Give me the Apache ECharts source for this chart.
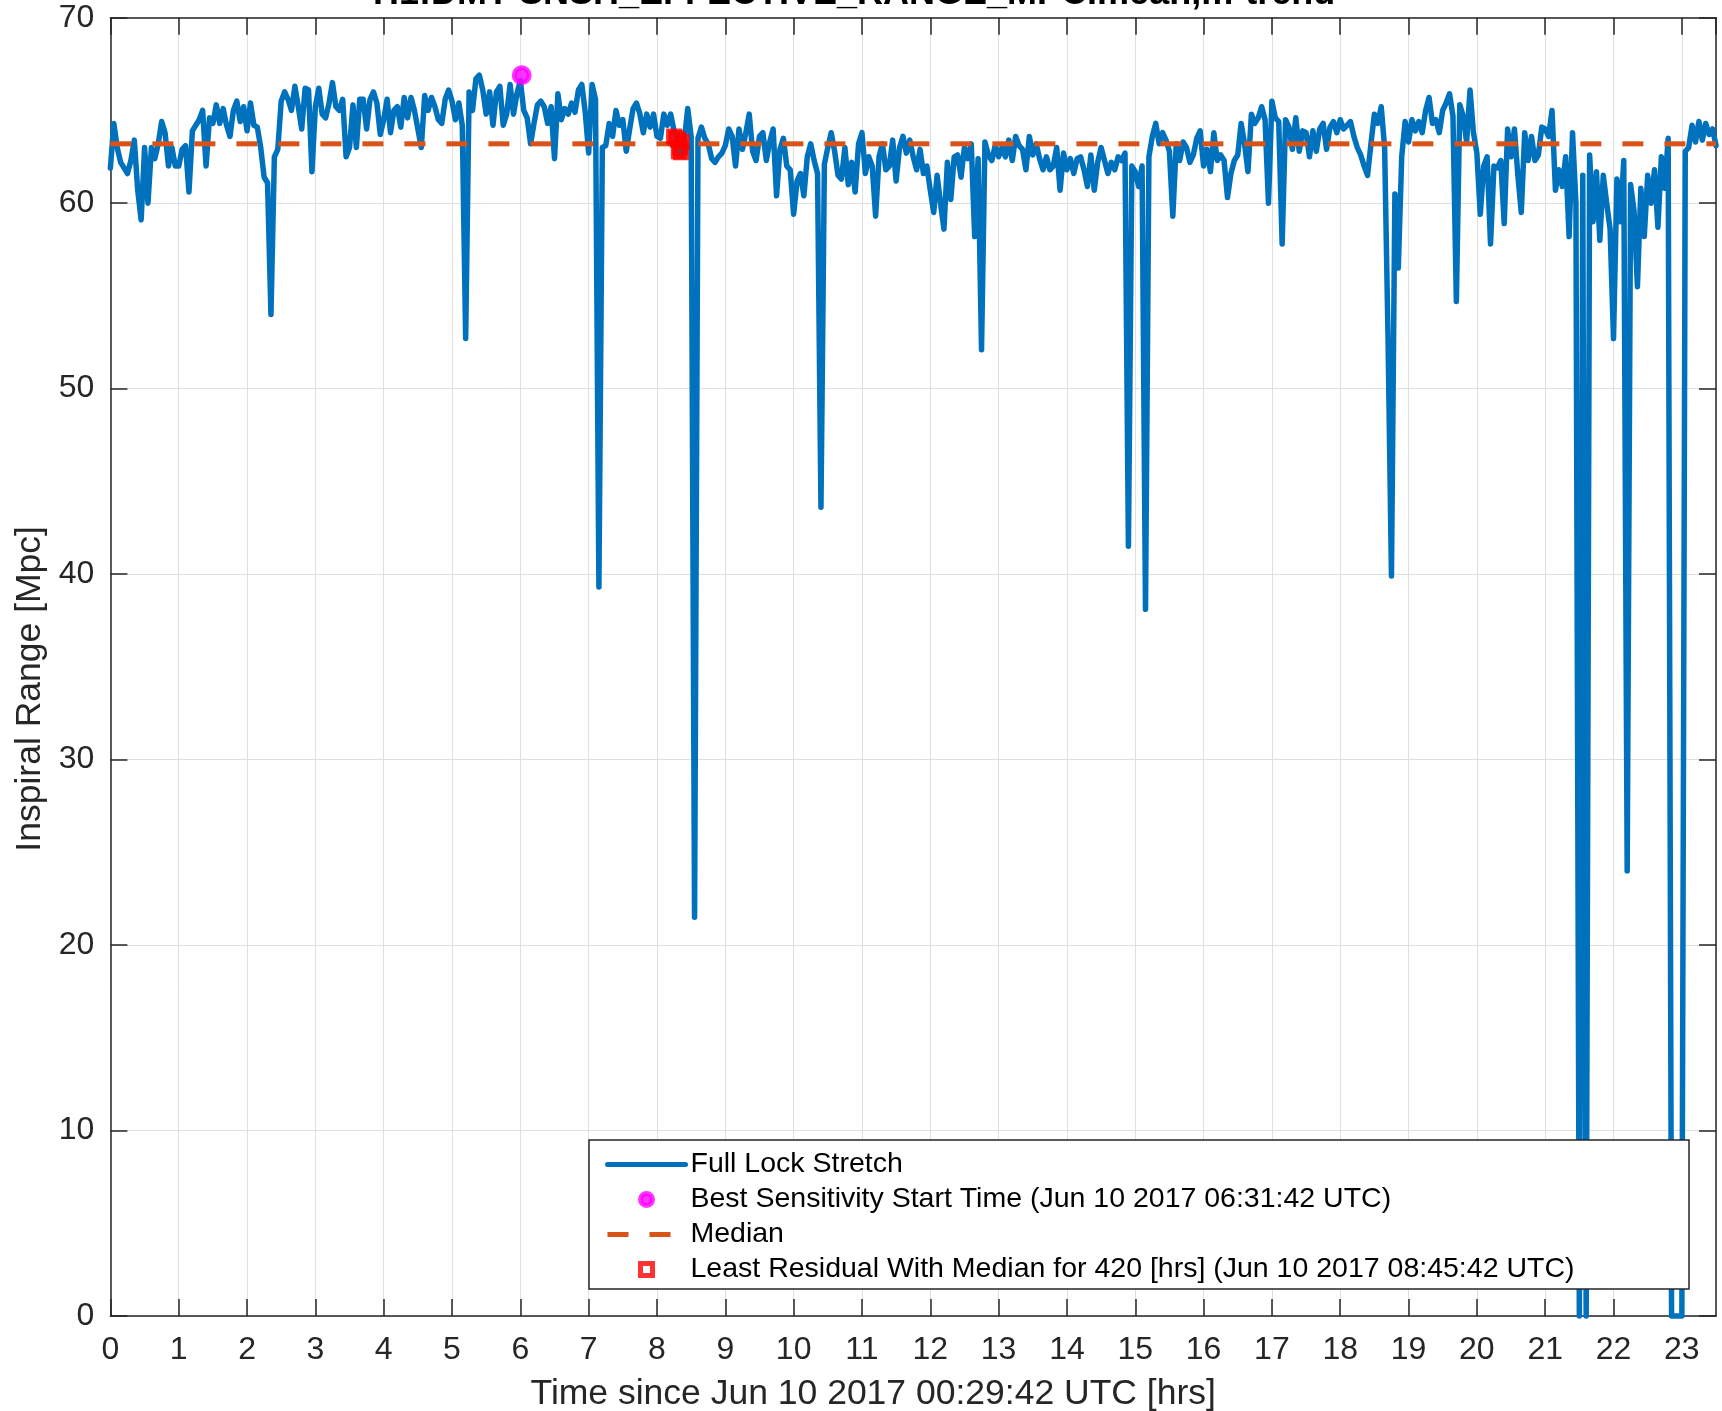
<!DOCTYPE html>
<html>
<head>
<meta charset="utf-8">
<title>Inspiral range trend</title>
<script src="https://cdn.jsdelivr.net/npm/echarts@6/dist/echarts.min.js"></script>
<style>
  html, body { margin: 0; padding: 0; background: #fff; }
  #chart { width: 1722px; height: 1411px; }
</style>
</head>
<body>
<div id="chart"></div>
<script>
// minute trend, one sample every 0.05 hr, one row per hour
var sampleStepHrs = 0.05;
var inspiralRange = [
  61.9, 64.3, 63.0, 62.2, 61.9, 61.6, 62.3, 63.4, 60.7, 59.1, 63.0, 60.0, 63.0, 62.4, 63.2, 64.4, 63.8, 62.0, 63.0, 62.0,
  62.0, 62.9, 63.1, 60.6, 63.9, 64.2, 64.5, 65.0, 62.0, 64.6, 64.3, 65.3, 64.3, 65.1, 64.2, 63.6, 65.0, 65.5, 64.4, 65.2,
  63.9, 65.4, 64.2, 64.1, 63.0, 61.4, 61.1, 54.0, 62.5, 62.9, 65.5, 66.0, 65.6, 65.0, 66.3, 65.2, 64.0, 66.2, 66.1, 61.7,
  65.2, 66.2, 64.8, 64.6, 65.4, 66.5, 65.2, 65.0, 65.6, 62.5, 63.0, 65.3, 63.0, 65.6, 65.6, 64.0, 65.6, 66.0, 65.4, 63.7,
  64.5, 65.6, 63.8, 65.0, 65.2, 64.1, 65.7, 64.6, 65.7, 65.0, 64.0, 63.0, 65.8, 65.0, 65.7, 65.2, 64.5, 64.3, 65.6, 66.1,
  65.5, 64.5, 65.4, 64.2, 52.7, 66.0, 65.0, 66.7, 66.9, 66.1, 64.8, 66.0, 64.2, 66.0, 66.3, 64.2, 64.8, 66.4, 64.8, 65.9,
  66.6, 65.0, 64.6, 63.2, 64.3, 65.3, 65.5, 65.2, 64.3, 65.2, 62.4, 65.9, 64.5, 65.1, 64.8, 65.4, 64.9, 66.1, 66.4, 64.9,
  62.7, 66.4, 65.6, 39.3, 63.0, 63.1, 64.3, 63.6, 65.0, 64.2, 64.5, 62.8, 64.0, 65.1, 65.4, 64.8, 63.8, 64.8, 64.1, 64.8,
  63.6, 63.5, 64.8, 64.2, 64.8, 63.9, 63.4, 62.6, 63.4, 65.1, 63.6, 21.5, 63.5, 64.1, 63.5, 63.2, 62.4, 62.2, 62.5, 62.7,
  63.1, 64.0, 63.6, 62.0, 64.0, 62.9, 63.8, 64.8, 62.8, 62.3, 63.6, 63.8, 62.3, 63.3, 64.0, 60.4, 62.9, 63.5, 62.0, 61.8,
  59.4, 61.2, 61.6, 60.4, 62.5, 63.2, 62.3, 61.6, 43.6, 62.1, 63.0, 63.8, 62.8, 61.5, 61.3, 63.0, 61.0, 62.2, 60.6, 63.2,
  63.8, 61.6, 62.5, 62.0, 59.3, 62.5, 63.2, 61.8, 62.0, 63.4, 61.2, 63.0, 63.6, 62.7, 63.4, 62.5, 61.8, 62.9, 61.6, 62.0,
  60.7, 59.5, 61.5, 60.0, 58.6, 62.2, 60.2, 62.5, 62.6, 61.4, 63.0, 62.4, 63.2, 58.2, 62.4, 52.1, 63.3, 62.6, 62.3, 63.1,
  62.5, 63.0, 62.5, 63.4, 62.3, 63.6, 63.1, 62.9, 61.8, 63.6, 62.6, 63.2, 62.4, 61.8, 62.5, 61.8, 62.0, 63.0, 60.7, 62.7,
  61.8, 62.4, 61.6, 62.4, 62.5, 61.8, 60.9, 62.6, 60.7, 62.2, 63.0, 62.3, 61.6, 62.2, 61.8, 62.5, 62.3, 62.7, 41.5, 62.0,
  61.7, 60.9, 62.0, 38.1, 62.5, 63.6, 64.3, 63.2, 63.8, 63.4, 62.8, 59.3, 63.2, 62.3, 63.3, 63.0, 62.2, 62.6, 63.5, 63.9,
  62.0, 62.9, 61.7, 63.8, 62.3, 62.6, 62.3, 60.3, 61.6, 62.3, 62.6, 64.3, 63.2, 61.7, 64.8, 64.3, 64.6, 65.2, 64.5, 60.0,
  65.5, 64.6, 64.4, 57.8, 64.5, 64.1, 62.9, 64.6, 62.8, 63.9, 63.8, 62.5, 63.9, 62.8, 64.0, 64.3, 62.9, 64.1, 64.4, 63.8,
  64.5, 64.0, 64.2, 64.4, 63.6, 63.0, 62.6, 62.0, 61.5, 63.2, 64.8, 64.3, 65.2, 63.0, 52.7, 39.9, 60.5, 56.5, 62.5, 64.4,
  63.3, 64.5, 63.9, 64.4, 63.8, 65.0, 65.7, 64.3, 64.5, 63.8, 65.0, 65.4, 65.9, 64.7, 54.7, 65.3, 64.7, 63.3, 66.1, 63.8,
  62.7, 59.4, 62.0, 62.5, 57.8, 62.0, 61.9, 62.3, 58.9, 64.0, 62.5, 64.0, 61.5, 59.5, 63.8, 62.3, 63.6, 62.3, 62.6, 64.1,
  64.0, 63.6, 65.0, 60.7, 61.8, 60.9, 62.5, 58.2, 63.8, 60.0, 0.0, 61.5, 0.0, 62.6, 59.0, 61.7, 58.0, 61.5, 60.0, 58.6,
  52.7, 61.3, 59.0, 62.3, 24.0, 61.0, 59.6, 55.5, 60.8, 58.2, 61.5, 60.0, 61.8, 58.7, 62.5, 60.8, 63.5, 0.0, 0.0, 0.0,
  0.0, 62.8, 63.0, 64.2, 63.3, 64.4, 63.4, 64.3, 63.7, 64.0, 63.1
];
var medianRange = 63.2;
var bestSensitivity = [[6.02, 66.9]];
var leastResidual = [[8.25, 63.6], [8.28, 63.5], [8.31, 63.4], [8.32, 62.8], [8.34, 63.0], [8.35, 62.75], [8.36, 63.3]];
var xMax = 23.5;
var yMax = 70;

var legendNames = [
  'Full Lock Stretch',
  'Best Sensitivity Start Time (Jun 10 2017 06:31:42 UTC)',
  'Median',
  'Least Residual With Median for 420 [hrs] (Jun 10 2017 08:45:42 UTC)'
];

var fontFamily = "'Liberation Sans', Arial, Helvetica, sans-serif";
var axisColor = '#262626';
var gridColor = '#dfdfdf';

var rangePoints = inspiralRange.map(function (v, i) {
  return [+(i * sampleStepHrs).toFixed(2), v];
});

var chartDom = document.getElementById('chart');
var myChart = echarts.init(chartDom, null, { renderer: 'canvas' });

function boxAxis(extra) {
  return Object.assign({
    type: 'value',
    axisLine: { show: true, onZero: false, lineStyle: { color: axisColor, width: 1.5 } },
    axisTick: { show: true, inside: true, length: 17, lineStyle: { color: axisColor, width: 1.5 } },
    axisLabel: { show: false },
    splitLine: { show: false }
  }, extra);
}

// line entries: hide the dot ECharts puts in the middle of a line icon
var noDot = { color: 'rgba(0,0,0,0)', borderWidth: 0 };

var option = {
  animation: false,
  backgroundColor: '#fff',
  textStyle: { fontFamily: fontFamily },
  title: {
    text: 'H1:DMT-SNSH_EFFECTIVE_RANGE_MPC.mean,m-trend',
    left: 373,
    top: -24,
    padding: 0,
    textStyle: { fontSize: 36, fontWeight: 'bold', color: '#000', fontFamily: fontFamily }
  },
  grid: {
    left: 110.4,
    right: 6,
    top: 17.7,
    bottom: 95,
    containLabel: false,
    outerBoundsMode: 'none'
  },
  legend: {
    orient: 'vertical',
    left: 605,
    top: 1147,
    padding: 0,
    itemWidth: 78,
    itemHeight: 12,
    itemGap: 0,
    itemTextGap: 12,
    selectedMode: false,
    symbolKeepAspect: true,
    z: 4,
    data: [
      { name: legendNames[0], itemStyle: noDot },
      { name: legendNames[1] },
      { name: legendNames[2], itemStyle: noDot },
      { name: legendNames[3], icon: 'path://M0,0H12V12H0Z' }
    ],
    lineStyle: { width: 5 },
    itemStyle: { borderWidth: 5 },
    textStyle: { fontSize: 28.5, lineHeight: 35, color: '#000', fontFamily: fontFamily }
  },
  graphic: [{
    type: 'rect',
    z: 3,
    shape: { x: 589, y: 1140, width: 1100, height: 149 },
    style: { fill: '#fff', stroke: axisColor, lineWidth: 1.5 }
  }],
  xAxis: [
    boxAxis({
      position: 'bottom',
      min: 0,
      max: xMax,
      interval: 1,
      name: 'Time since Jun 10 2017 00:29:42 UTC [hrs]',
      nameLocation: 'middle',
      nameGap: 60,
      nameTextStyle: { fontSize: 35.5, color: axisColor, padding: [0, 80, 0, 0] },
      axisLabel: { show: true, fontSize: 32, margin: 18, color: axisColor, showMaxLabel: false },
      splitLine: { show: true, lineStyle: { color: gridColor, width: 1 } }
    }),
    boxAxis({ position: 'top', min: 0, max: xMax, interval: 1 })
  ],
  yAxis: [
    boxAxis({
      position: 'left',
      min: 0,
      max: yMax,
      interval: 10,
      name: 'Inspiral Range [Mpc]',
      nameLocation: 'middle',
      nameGap: 61,
      nameTextStyle: { fontSize: 35.5, color: axisColor, padding: [0, 44, 0, 0] },
      axisLabel: { show: true, fontSize: 32, margin: 16, color: axisColor },
      splitLine: { show: true, lineStyle: { color: gridColor, width: 1 } }
    }),
    boxAxis({ position: 'right', min: 0, max: yMax, interval: 10 })
  ],
  series: [
    {
      name: legendNames[0],
      type: 'line',
      data: rangePoints,
      symbol: 'none',
      clip: false,
      z: 2,
      color: '#0072BD',
      lineStyle: { color: '#0072BD', width: 5.5, join: 'round', cap: 'round' }
    },
    {
      name: legendNames[1],
      type: 'scatter',
      data: bestSensitivity,
      symbol: 'circle',
      symbolSize: 15,
      z: 6,
      itemStyle: { color: '#FF00FF', borderColor: '#FF00FF', borderWidth: 5 }
    },
    {
      name: legendNames[2],
      type: 'line',
      data: [[0, medianRange], [xMax, medianRange]],
      symbol: 'none',
      z: 3,
      color: '#D95319',
      lineStyle: { color: '#D95319', width: 5, type: [21, 21] }
    },
    {
      name: legendNames[3],
      type: 'scatter',
      data: leastResidual,
      symbol: 'rect',
      symbolSize: 11,
      z: 6,
      itemStyle: { color: 'rgba(255,255,255,0)', borderColor: '#FF0000', borderWidth: 5 }
    }
  ]
};

option && myChart.setOption(option);
</script>
</body>
</html>
